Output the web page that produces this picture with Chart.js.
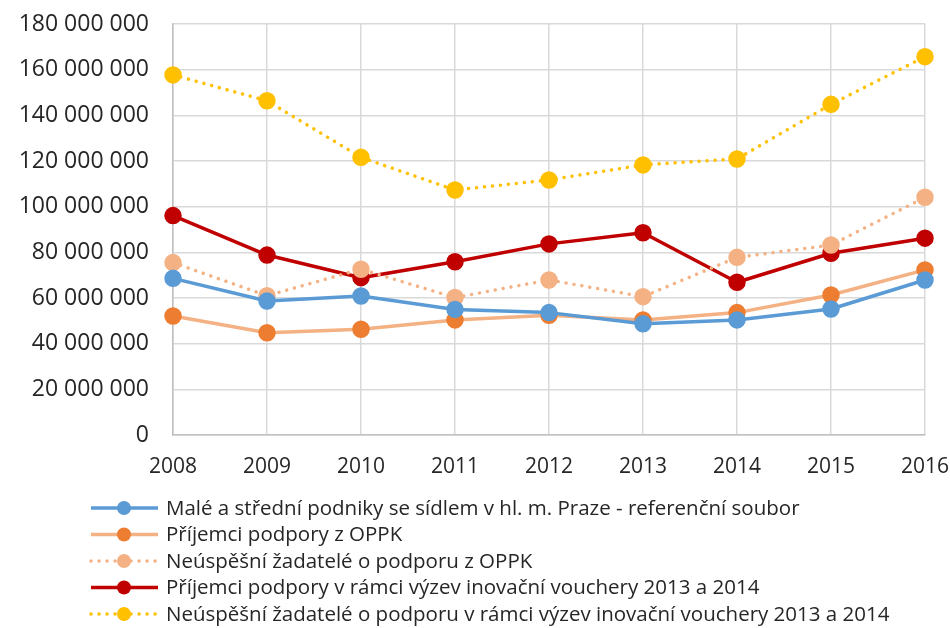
<!DOCTYPE html>
<html lang="cs">
<head>
  <meta charset="UTF-8">
  <title>Vývoj – inovační vouchery</title>
  <script src="https://cdn.jsdelivr.net/npm/chart.js"></script>
  <style>
    html, body { margin: 0; padding: 0; background: #fff; }
    #wrap { width: 950px; height: 628px; }
  </style>
</head>
<body>
  <div id="wrap">
    <canvas id="chart" width="950" height="628"></canvas>
  </div>

  <script>
    // Roky na ose x
    const years = ['2008', '2009', '2010', '2011', '2012', '2013', '2014', '2015', '2016'];

    // Hodnoty jednotlivých řad
    const msp = [68.6e6, 58.7e6, 60.9e6, 55.0e6, 53.6e6, 48.7e6, 50.4e6, 55.2e6, 67.9e6];
    const prijemciOppk = [52.1e6, 44.8e6, 46.3e6, 50.4e6, 52.4e6, 50.4e6, 53.6e6, 61.3e6, 72.3e6];
    const neuspesniOppk = [75.5e6, 61.0e6, 72.6e6, 60.2e6, 67.9e6, 60.6e6, 77.8e6, 83.2e6, 104.1e6];
    const prijemciVouchery = [96.1e6, 78.8e6, 68.9e6, 75.9e6, 83.7e6, 88.6e6, 66.9e6, 79.6e6, 86.2e6];
    const neuspesniVouchery = [157.7e6, 146.4e6, 121.6e6, 107.3e6, 111.7e6, 118.3e6, 120.9e6, 144.8e6, 165.7e6];

    const seriesLabels = [
      'Malé a střední podniky se sídlem v hl. m. Praze - referenční soubor',
      'Příjemci podpory z OPPK',
      'Neúspěšní žadatelé o podporu z OPPK',
      'Příjemci podpory v rámci výzev inovační vouchery 2013 a 2014',
      'Neúspěšní žadatelé o podporu v rámci výzev inovační vouchery 2013 a 2014'
    ];

    // Osa y
    const yMin = 0;
    const yMax = 180000000;
    const yStep = 20000000;

    const FONT = "'Open Sans', 'Noto Sans', sans-serif";
    const TEXT = '#262626';
    const DOTS = [0.01, 8];

    function fmt(v) {
      return String(v).replace(/\B(?=(\d{3})+(?!\d))/g, ' ');
    }

    function ds(label, data, line, point, dotted) {
      return {
        label: label,
        data: data,
        borderColor: line,
        backgroundColor: point,
        pointBackgroundColor: point,
        pointBorderColor: point,
        pointRadius: 7,
        pointHoverRadius: 7,
        borderWidth: 3.5,
        borderDash: dotted ? DOTS : [],
        borderCapStyle: dotted ? 'round' : 'butt',
        borderJoinStyle: 'round',
        tension: 0,
        fill: false
      };
    }

    // Legenda pod grafem (čára + značka + text)
    const bottomLegend = {
      id: 'bottomLegend',
      afterDraw(chart) {
        const ctx = chart.ctx;
        ctx.save();
        ctx.font = '20.5px ' + FONT;
        ctx.textBaseline = 'middle';
        chart.data.datasets.forEach((d, i) => {
          const y = 508 + i * 26.5;
          ctx.beginPath();
          ctx.strokeStyle = d.borderColor;
          ctx.lineWidth = d.borderWidth;
          ctx.lineCap = d.borderCapStyle;
          ctx.setLineDash(d.borderDash);
          ctx.moveTo(91, y);
          ctx.lineTo(158, y);
          ctx.stroke();
          ctx.setLineDash([]);
          ctx.beginPath();
          ctx.fillStyle = d.pointBackgroundColor;
          ctx.arc(124, y, 7, 0, Math.PI * 2);
          ctx.fill();
          ctx.fillStyle = TEXT;
          ctx.fillText(d.label, 166, y + 1);
        });
        ctx.restore();
      }
    };

    const chart = new Chart(document.getElementById('chart'), {
      type: 'line',
      data: {
        labels: years,
        datasets: [
          ds(seriesLabels[0], msp, '#5B9BD5', '#5B9BD5', false),
          ds(seriesLabels[1], prijemciOppk, '#F4B183', '#ED7D31', false),
          ds(seriesLabels[2], neuspesniOppk, '#F4B183', '#F4B183', true),
          ds(seriesLabels[3], prijemciVouchery, '#C00000', '#C00000', false),
          ds(seriesLabels[4], neuspesniVouchery, '#FFC000', '#FFC000', true)
        ]
      },
      options: {
        responsive: false,
        devicePixelRatio: 1,
        animation: false,
        layout: { padding: { top: 24, right: 25, bottom: 0, left: 0 } },
        plugins: {
          legend: { display: false },
          tooltip: { enabled: false }
        },
        scales: {
          x: {
            offset: false,
            grid: { color: '#D9D9D9', lineWidth: 1.5, drawTicks: false },
            border: { color: '#BFBFBF', width: 1.5 },
            ticks: { color: TEXT, font: { family: FONT, size: 21 }, padding: 19, maxRotation: 0 },
            afterFit(s) {
              s.height = 193;
              s.paddingLeft = 0;
              s.paddingRight = 0;
            }
          },
          y: {
            min: yMin,
            max: yMax,
            grid: { color: '#D9D9D9', lineWidth: 1.5, drawTicks: false },
            border: { color: '#BFBFBF', width: 1.5 },
            ticks: {
              stepSize: yStep,
              color: TEXT,
              font: { family: FONT, size: 23 },
              padding: 24,
              callback: v => fmt(v)
            },
            afterFit(s) {
              s.width = 173;
              s.paddingTop = 0;
              s.paddingBottom = 0;
            }
          }
        }
      },
      plugins: [bottomLegend]
    });
  </script>
</body>
</html>
